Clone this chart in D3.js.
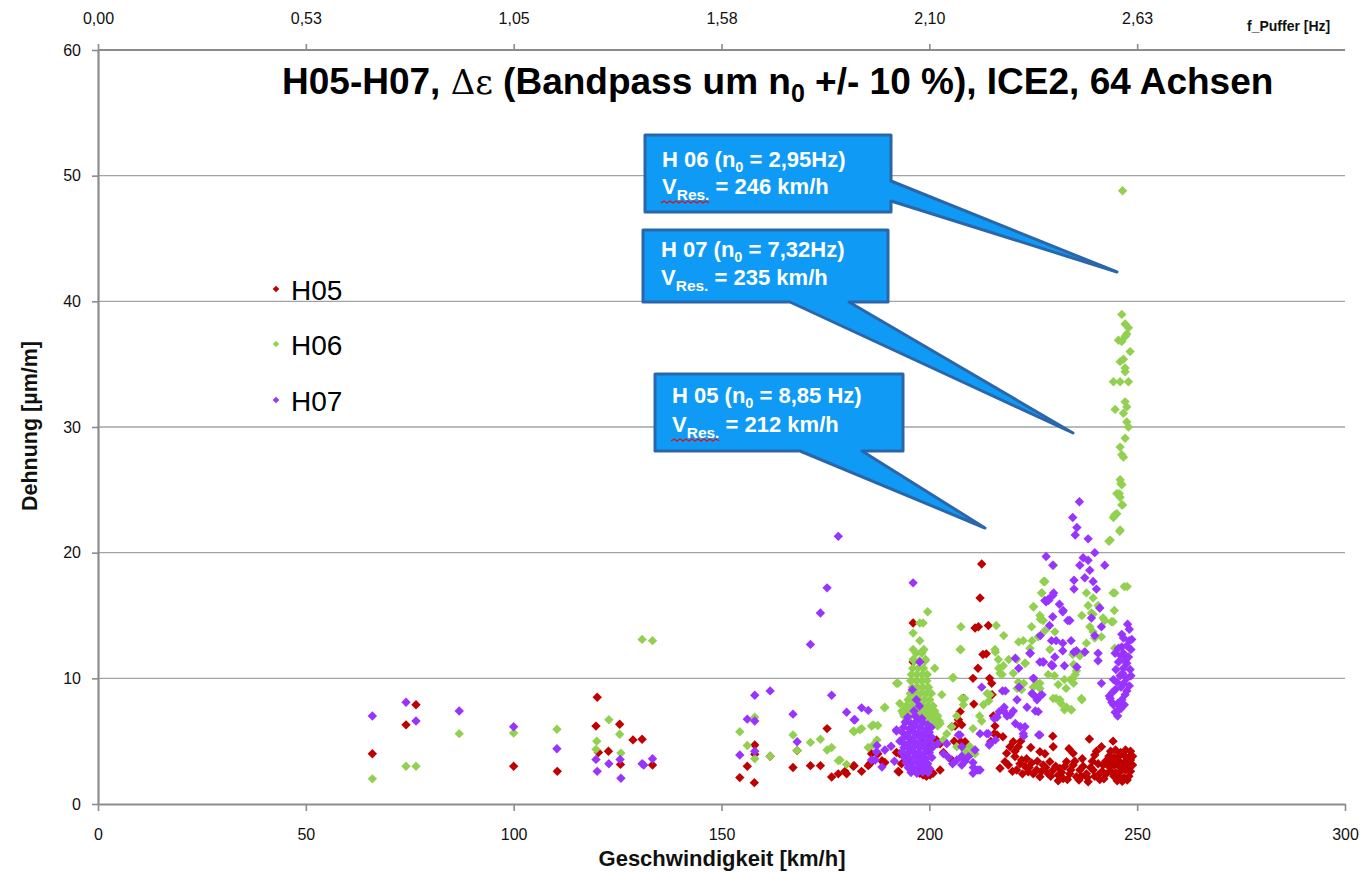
<!DOCTYPE html>
<html><head><meta charset="utf-8">
<script src="https://cdn.jsdelivr.net/npm/d3@7/dist/d3.min.js"></script>
<style>
html,body{margin:0;padding:0;background:#fff;}
svg{display:block;font-family:Arial,"Liberation Sans",sans-serif;}
</style></head>
<body>
<svg id="chart" width="1362" height="872"></svg>
<script>
// ---------- data ----------
const seriesNames = ["H05","H06","H07"];
const seriesColors = ["#C00000","#92D050","#9933FF"];
const xTicks = [0,50,100,150,200,250,300];
const yTicks = [0,10,20,30,40,50,60];
const topTickSpeeds = [0,50,100,150,200,250];
const topTickLabels = ["0,00","0,53","1,05","1,58","2,10","2,63"];

const h05 = [
[66,4.0],[74.1,6.3],[76.5,7.9],[100,3.0],[110.5,2.6],[120.1,8.5],[119.8,6.2],[120.4,4.1],[122.8,4.2],[125.5,6.35],[125.7,3.15],[128.7,5.1],[130.9,5.15],[133.4,3.1],
[154.4,2.1],[156.2,3.0],[157.9,1.7],[158,4.7],[158,3.95],[161.7,3.8],[167.2,2.9],[168.2,4.25],[171.4,3.05],[173.8,3.05],[175.4,6.0],[176.5,2.15],[178.1,2.4],[179.7,2.6],[180.1,2.4],[181.7,3.0],[181.9,3.05],[183.7,2.6],[185.3,3.05],[185.7,3.2],[186.1,4.0],[187.6,4.0],[188.6,3.45],[188.9,3.3],[189.3,3.3],[192.1,4.1],[192.5,2.6],[192.7,2.55],[192.9,4.0],[193.3,3.2],[193.7,4.0],
[196.1,14.4],[196.1,11.3],[197.7,2.45],[198.5,2.3],[199.3,2.2],[200.2,2.3],[200.9,2.45],[202.6,2.7],[198.5,5.0],[199.7,5.3],[200.2,4.7],[201.7,5.1],[202.6,4.8],[203.4,4.1],[205.4,3.5],[205.4,6.15],[206.2,6.2],[207.0,6.7],[207.4,7.35],[207.8,6.3],[208.2,8.4],[208.6,4.95],[207.6,4.95],[206.0,5.0],
[210.5,10.0],[210.7,7.95],[211.7,10.8],[211.0,14.0],[211.8,14.1],[214.2,14.2],[212.2,16.4],[212.6,19.1],[212.9,11.9],[213.7,11.95],[214.5,10.0],[215.0,9.6],[215.1,8.7],[215.4,7.0],[215.8,6.2],[215.6,5.6],[214.8,4.98],[216.3,5.5],
[217.0,2.84],[217.7,5.35],[218.2,3.37],[218.6,4.03],[219.4,4.56],[220.2,4.96],[220.6,3.77],[221.0,2.7],[221.4,4.56],[222.2,3.5],[223.0,3.0],[223.8,2.57],[224.6,3.27],[225.8,2.7],[226.6,2.17],[226.6,4.16],[227.4,3.1],[228.6,2.4],[229.0,3.37],[229.8,2.7],[229.8,4.56],[229.7,5.4],[231.0,2.3],[231.4,2.83],[232.2,2.03],[233.0,3.37],[233.8,2.4],[234.6,3.1],[234.6,4.03],[235.4,2.17],[236.2,2.7],[237.8,2.4],[238.2,1.77],[238.5,5.17],[239.4,2.7],[239.8,3.9],[240.6,2.3],[241.4,4.56],[241.8,3.1],[242.6,2.4],[243.4,2.97],[244.2,5.0],
[219.0,3.1],[220.0,2.6],[221.8,3.2],[222.4,2.4],[224.0,2.9],[225.0,2.4],[226.0,3.4],[227.0,2.6],[228.0,2.9],[229.2,2.2],[230.4,3.0],[231.8,2.5],[232.6,3.0],[233.2,1.95],[234.0,2.7],[235.0,3.4],[236.6,2.2],[237.0,3.0],[238.0,2.1],[238.8,2.9],[239.8,2.2],[240.6,3.2],[241.0,1.95],[241.6,2.6],[242.4,3.4],[242.0,2.0],[236.0,1.9],[231.0,1.85],[223.4,3.6],[220.6,4.2],[227.8,4.0],[233.6,4.4],[236.8,3.6],[239.2,3.4],[240.2,4.2],[224.4,4.5],[222.0,5.0],
[243.6,4.2],[244.8,4.3],[246.0,4.1],[247.2,4.3],[248.4,4.2],
[243.2,3.8],[244.4,3.7],[245.6,3.8],[246.8,3.9],[248.0,3.7],[248.9,3.8],
[243.6,3.4],[244.8,3.4],[246.0,3.3],[247.2,3.4],[248.4,3.5],
[243.2,3.0],[244.4,3.1],[245.6,3.0],[246.8,2.9],[248.0,3.0],[248.9,3.1],
[243.6,2.6],[244.8,2.5],[246.0,2.6],[247.2,2.7],[248.4,2.6],
[244.4,2.2],[245.6,2.2],[246.8,2.1],[248.0,2.2],
[245.2,1.85],[246.4,1.8],[247.6,1.9]
];

const h06 = [
[66,2.0],[74.1,3.0],[76.5,3.0],[86.9,5.6],[100,5.65],[110.4,5.95],[122.9,6.7],[120,5.0],[119.8,4.35],[125.5,5.55],[125.8,4.05],[130.9,13.1],[133.4,13.0],
[154.4,5.75],[156.2,4.65],[158,6.9],[158,3.6],[161.7,3.8],[167.2,5.5],[168.2,4.25],[171.4,4.9],[173.8,5.15],[175.4,4.3],[176.5,4.5],[178.1,3.45],[178.5,3.5],[180.1,3.15],[181.7,5.8],[181.9,5.75],[183.3,5.9],[183.7,6.0],[185.3,4.5],[186.1,6.2],[186.5,6.3],[186.5,4.7],[187.6,6.25],[187.4,5.1],[189.2,7.65],[189.3,7.7],[192.1,9.6],[192.5,9.6],[192.9,8.0],[193.7,7.2],
[196.1,13.6],[196.1,12.3],[199.6,15.3],[197.7,14.4],[198.5,14.4],[197.7,13.0],[198.1,12.1],[198.7,12.3],[199.1,11.5],[196.1,11.5],[201.3,10.8],
[196.8,12.0],[198.2,12.0],
[196.3,11.4],[197.6,11.4],[199.0,11.4],
[196.0,10.8],[197.3,10.8],[198.6,10.8],
[195.7,10.3],[197.0,10.3],[198.3,10.3],[199.5,10.3],
[195.5,9.8],[196.8,9.8],[198.1,9.8],[199.4,9.8],
[195.9,9.3],[197.2,9.3],[198.5,9.3],[199.8,9.3],
[195.4,8.8],[196.7,8.8],[198.0,8.8],[199.3,8.8],[200.5,8.8],
[194.9,8.3],[196.2,8.3],[197.5,8.3],[198.8,8.3],[200.1,8.3],
[194.4,7.8],[195.7,7.8],[197.0,7.8],[198.3,7.8],[199.6,7.8],[200.9,7.8],
[193.4,7.4],[194.8,7.4],[196.1,7.4],[197.4,7.4],[198.7,7.4],[200.0,7.4],[201.3,7.4],
[193.9,7.0],[195.2,7.0],[196.5,7.0],[197.8,7.0],[199.1,7.0],[200.5,7.0],[202.0,7.0],
[194.4,6.6],[199.6,6.6],[201.2,6.6],[202.4,6.6],[200.8,6.2],[202.0,6.2],
[203.0,8.7],[205.6,10.05],[205.8,10.05],[207.4,12.3],[207.6,12.3],[207.6,14.1],[207.8,8.4],[208.5,8.4],[208.2,7.9],[206.6,7.0],[205.4,6.15],[202.6,6.4],[204.2,5.6],[203.4,5.1],[206.6,4.55],[208.6,4.2],[209.7,4.6],[210.1,4.0],[211.0,4.0],[210.5,6.0],[212.1,7.0],[212.6,6.6],[213.0,7.9],[213.9,8.8],[214.3,8.2],[214.6,8.7],
[215.8,12.3],[216.6,11.5],[217.8,11.0],[217.0,10.4],[215.9,12.1],[216.1,14.2],[217.9,13.4],[216.7,10.8],[217.5,10.3],[219.1,11.5],[220.2,10.4],[221.0,11.5],[221.4,9.7],[221.5,12.9],[222.2,9.1],[222.6,13.0],[223.0,11.2],[223.1,11.2],[222.7,9.6],[221.1,9.2],[224.2,12.4],[224.6,14.1],[225.0,9.3],[225.9,9.6],[224.7,13.0],[225.1,15.7],[225.0,15.7],[226.2,13.3],[226.6,15.0],[226.6,9.6],[226.7,14.7],[227.1,16.8],[227.5,17.7],[227.6,17.7],[227.0,16.8],[227.8,13.8],[228.6,10.3],[229.9,19.0],
[227.8,17.7],[227.4,14.6],[230.2,13.7],[229.0,12.3],[230.1,10.2],[226.6,9.2],[229.8,8.4],[230.5,8.4],[231.0,9.5],[231.4,8.3],[231.7,8.0],[232.5,7.5],[233.0,7.7],[232.5,9.9],[232.9,9.2],[233.9,9.9],[234.1,7.5],[234.2,7.5],[234.6,10.0],[234.7,9.6],[235.1,10.3],[235.4,10.6],[234.7,11.1],[235.9,11.9],[234.5,11.9],[236.2,11.8],[236.6,8.4],[236.7,8.3],[237.4,12.1],[237.8,12.8],[239.4,13.7],[239.8,13.2],[238.6,14.1],[236.7,15.0],[239.0,15.2],[239.4,15.1],[238.2,15.8],[240.6,15.8],[241.0,15.6],[239.4,16.4],[237.8,16.8],[241.4,13.3],[241.8,14.8],[242.2,14.6],[243.8,14.5],[244.6,12.4],[244.2,14.5],[244.5,15.4],[244.2,16.8],[244.6,16.8],[246.9,17.3],[247.6,17.3],
[243.2,20.9],[243.5,21.0],[245.8,21.7],[245.9,21.8],[244.3,22.8],[244.6,23.0],[245.1,23.1],[246.5,23.8],[246.3,23.8],[245.9,24.4],[245.7,24.7],[245.1,24.7],[246.1,25.5],[246.3,25.4],[245.9,25.8],[246.7,27.6],[246.3,27.8],[245.9,28.4],[247.1,29.1],[247.9,30.0],[247.5,30.4],[246.7,31.1],[247.5,31.6],[244.7,31.4],[247.1,32.0],[244.3,33.6],[245.9,33.6],[247.9,33.6],[247.1,34.4],[247.1,34.7],[245.9,35.2],[246.7,35.4],[248.3,36.0],[246.3,36.8],[245.5,36.9],[247.1,37.2],[247.5,37.4],[247.9,37.9],[247.1,38.2],[246.3,38.96],[246.5,48.8]
];

const h07 = [
[66,7.0],[74.1,8.1],[76.5,6.6],[86.9,7.4],[100,6.15],[110.4,4.4],[119.8,3.55],[120.1,2.6],[122.9,3.2],[125.6,3.55],[125.8,2.05],[130.9,3.2],[131.3,3.1],[133.4,3.6],
[154.4,3.9],[156.2,6.75],[158,8.65],[158,6.6],[158,4.2],[161.7,9.0],[167.2,7.15],[168.2,4.95],[171.4,12.7],[173.8,15.2],[175.4,17.2],[178.1,21.3],[176.5,8.65],[180.1,7.3],[181.9,6.7],[182.1,6.7],[183.7,7.65],[185.3,7.45],[187.4,4.65],[187.3,4.15],[187.0,3.5],[189.3,4.3],[186.1,3.5],[188.6,2.95],[192.1,5.8],[192.1,5.9],[192.9,5.0],[191.6,3.4],[190.8,4.6],
[196.1,17.6],[197.7,11.3],[196.3,7.4],[197.6,7.8],[196.9,8.3],[195.9,9.1],
[194.8,6.9],[196.6,7.0],[198.2,6.8],
[194.2,6.5],[195.6,6.4],[197.0,6.6],[198.4,6.5],[199.6,6.3],
[193.8,6.1],[195.2,6.0],[196.5,6.2],[197.8,6.1],[199.2,5.9],[200.4,6.1],
[193.5,5.7],[194.8,5.6],[196.1,5.8],[197.4,5.7],[198.7,5.6],[200.0,5.7],
[193.9,5.3],[195.3,5.2],[196.6,5.4],[197.9,5.3],[199.3,5.2],[200.6,5.3],
[193.6,4.9],[194.9,4.8],[196.2,5.0],[197.5,4.9],[198.8,4.8],[200.1,4.9],
[193.9,4.5],[195.2,4.4],[196.5,4.6],[197.8,4.5],[199.2,4.4],[200.5,4.5],
[193.4,4.1],[194.8,4.0],[196.1,4.2],[197.4,4.1],[198.7,4.0],[200.0,4.1],
[194.0,3.7],[195.3,3.6],[196.6,3.8],[197.9,3.7],[199.2,3.6],[200.6,3.7],
[194.4,3.3],[195.7,3.2],[197.0,3.4],[198.3,3.3],[199.6,3.2],
[194.9,2.9],[196.2,2.8],[197.5,3.0],[198.8,2.9],[200.1,2.8],
[195.6,2.5],[197.0,2.45],[198.4,2.55],[199.7,2.5],
[200.9,4.56],[202.0,4.8],[203.4,4.0],[204.2,4.8],[204.6,3.7],[205.6,3.2],[206.6,3.5],[207.8,3.8],[207.8,3.1],[207.8,4.56],[207.0,5.5],[207.4,5.5],[208.6,3.4],[209.4,3.77],[210.5,3.3],[210.5,2.44],[210.6,2.9],[211.7,2.7],[212.2,2.7],[211.0,4.3],[212.2,5.6],[213.8,5.6],[214.2,5.6],[214.4,4.7],[214.6,4.8],[215.9,5.1],[215.6,6.8],[216.3,6.9],[216.8,7.35],[217.9,7.4],[218.0,7.7],[218.7,7.0],[219.5,7.1],[220.2,7.4],[220.7,6.4],[221.9,6.15],[222.7,5.4],[223.0,6.15],[222.6,5.6],[226.3,5.5],[226.6,5.5],
[212.6,9.3],[217.6,9.0],[218.3,9.0],[220.7,11.6],[221.5,10.8],[221.1,8.3],[221.6,9.3],[223.5,7.7],[224.3,12.0],[224.2,12.0],[225.1,10.0],[225.0,10.0],[224.7,8.8],[225.0,8.7],[225.9,8.3],[226.6,8.6],[227.1,8.7],[225.5,7.4],[226.2,7.35],[227.5,11.3],[226.6,11.3],[229.5,11.0],[229.4,11.1],[230.2,11.7],[226.7,13.4],[229.4,13.0],[228.7,16.2],[227.8,16.2],[228.6,16.3],[229.9,16.8],[232.2,15.4],[233.8,14.6],
[236.1,24.05],[234.5,22.8],[235.5,22.0],[235.1,21.4],[238.2,21.1],[239.8,20.0],[237.0,19.6],[238.2,19.4],[228.1,19.7],[229.7,19.0],[236.2,19.0],[238.6,18.6],[242.2,19.0],[234.8,17.8],[237.4,18.0],[239.4,17.7],[234.8,17.1],[240.2,17.1],[229.7,16.6],[228.1,16.1],[231.3,15.9],[232.1,15.3],[229.7,14.9],[233.3,14.6],[228.9,14.2],[241.0,15.6],[239.0,14.8],[241.4,14.1],[239.8,13.4],[230.5,13.0],[232.1,12.8],[234.1,13.0],[232.1,12.2],[234.8,12.1],[235.4,12.2],[237.4,12.1],[240.6,12.0],[227.3,11.3],[229.7,11.0],[232.5,11.0],[235.5,10.9],[240.6,11.4],[241.4,9.6],
[248.1,13.9],[246.3,13.5],[248.1,13.0],[246.3,12.5],[244.7,12.0],[246.7,12.0],[247.9,11.7],[245.5,11.3],[247.5,11.2],[246.7,10.8],[248.3,10.7],[245.9,10.2],[247.5,10.0],[244.3,9.9],[246.7,9.6],[244.7,9.1],[247.5,9.0],[243.5,8.4],[246.3,8.3],[244.3,7.9],[245.5,7.5],[245.3,7.0],
[246.7,13.2],[247.5,12.6],[245.5,12.4],[248.5,12.3],[246.1,11.8],[247.1,11.4],[244.9,10.7],[246.5,10.4],[248.5,10.2],[245.1,9.7],[246.1,9.3],[248.1,9.4],[244.1,8.9],[247.1,8.7],[243.9,8.1],[245.3,8.0],[246.9,7.9],[244.7,7.3],[246.1,7.6],[243.3,8.6],[247.7,14.3],[248.7,13.1]
];

const series = [h05, h06, h07];

// ---------- chart ----------
const svg = d3.select("#chart");
const x = d3.scaleLinear().domain([0,300]).range([98,1345]);
const y = d3.scaleLinear().domain([0,60]).range([804,50]);
const gridColor = "#a3a3a3", axisColor = "#8c8c8c";

svg.append("g").selectAll("line").data(yTicks.filter(v=>v>0 && v<60)).join("line")
  .attr("x1",x(0)).attr("x2",x(300)).attr("y1",d=>y(d)).attr("y2",d=>y(d))
  .attr("stroke",gridColor).attr("stroke-width",1.3);

function styleAxis(g){
  g.select(".domain").attr("stroke",axisColor).attr("stroke-width",2.2);
  g.selectAll(".tick line").attr("stroke",axisColor).attr("stroke-width",1.6);
  g.selectAll(".tick text").attr("fill","#111").attr("font-size",16).attr("font-family","Arial, 'Liberation Sans', sans-serif");
}
svg.append("g").attr("transform",`translate(0,${y(0)})`)
  .call(d3.axisBottom(x).tickValues(xTicks).tickSize(7).tickPadding(18).tickSizeOuter(0).tickFormat(d3.format("d")))
  .call(styleAxis);
svg.append("g").attr("transform",`translate(${x(0)},0)`)
  .call(d3.axisLeft(y).tickValues(yTicks).tickSize(6).tickPadding(11).tickSizeOuter(0).tickFormat(d3.format("d")))
  .call(styleAxis);
svg.append("g").attr("transform",`translate(0,${y(60)})`)
  .call(d3.axisTop(x).tickValues(topTickSpeeds).tickSize(6).tickPadding(20).tickSizeOuter(0)
        .tickFormat((d,i)=>topTickLabels[i]))
  .call(styleAxis)
  .call(g=>g.select(".domain").attr("d",`M${x(0)},0H${x(300)}`));

svg.append("text").attr("x",1247).attr("y",31).attr("font-size",14).attr("font-weight","bold")
  .attr("fill","#111").text("f_Puffer [Hz]");

svg.append("text").attr("x",722).attr("y",866).attr("text-anchor","middle")
  .attr("font-size",22).attr("font-weight","bold").attr("fill","#111").text("Geschwindigkeit [km/h]");
svg.append("text").attr("transform","translate(37,426) rotate(-90)").attr("text-anchor","middle")
  .attr("font-size",21.5).attr("font-weight","bold").attr("fill","#111").text("Dehnung [µm/m]");

const diamond = r => `M0,${-r}L${r},0L0,${r}L${-r},0Z`;
series.forEach((s,i)=>{
  svg.append("g").selectAll("path").data(s).join("path")
    .attr("d",diamond(4.7))
    .attr("transform",d=>`translate(${x(d[0])},${y(d[1])})`)
    .attr("fill",seriesColors[i]);
});

const legendY = [300,355,411];
seriesNames.forEach((n,i)=>{
  svg.append("path").attr("d",diamond(3.3)).attr("transform",`translate(276,${legendY[i]-11})`).attr("fill",seriesColors[i]);
  svg.append("text").attr("x",291).attr("y",legendY[i]).attr("font-size",28).attr("fill","#000").text(n);
});

const title = svg.append("text").attr("x",282).attr("y",94).attr("font-size",37).attr("font-weight","bold").attr("fill","#000");
title.append("tspan").text("H05-H07, ");
title.append("tspan").attr("font-weight","normal").attr("font-family","'DejaVu Serif', serif").attr("font-size",34).text("Δε");
title.append("tspan").text(" (Bandpass um n");
title.append("tspan").attr("font-size",25).attr("dy",8).text("0");
title.append("tspan").attr("dy",-8).text(" +/- 10 %), ICE2, 64 Achsen");

const calloutFill = "#0f9bf5", calloutStroke = "#2b66ab";
const callouts = [
  {path:"M645,135 L891,135 L891,181 L1117,272 L891,201 L891,212 L645,212 Z",
   x:662, y1:167, y2:194, head:"H 06 (n", tail:" = 2,95Hz)", v:" = 246 km/h", wavy:true},
  {path:"M643,230 L888,230 L888,302 L849,302 L1073,433 L790,302 L643,302 Z",
   x:661, y1:257, y2:285, head:"H 07 (n", tail:" = 7,32Hz)", v:" = 235 km/h", wavy:false},
  {path:"M655,374 L903,374 L903,451 L862,451 L985,528 L800,451 L655,451 Z",
   x:672, y1:403, y2:432, head:"H 05 (n", tail:" = 8,85 Hz)", v:" = 212 km/h", wavy:true}
];
callouts.forEach(c=>{
  svg.append("path").attr("d",c.path).attr("fill",calloutFill).attr("stroke",calloutStroke)
    .attr("stroke-width",3).attr("stroke-linejoin","round");
  const t1 = svg.append("text").attr("x",c.x).attr("y",c.y1).attr("font-size",22).attr("font-weight","bold").attr("fill","#fff");
  t1.append("tspan").text(c.head);
  t1.append("tspan").attr("font-size",14.5).attr("dy",5).text("0");
  t1.append("tspan").attr("dy",-5).text(c.tail);
  const t2 = svg.append("text").attr("x",c.x).attr("y",c.y2).attr("font-size",22).attr("font-weight","bold").attr("fill","#fff");
  t2.append("tspan").text("V");
  t2.append("tspan").attr("font-size",15.5).attr("dy",6).text("Res.");
  t2.append("tspan").attr("dy",-6).text(c.v);
  if(c.wavy){
    let p = `M${c.x-1},${c.y2+9}`;
    for(let k=0;k<16;k++){ p += ` L${c.x+2+k*3},${c.y2+9+(k%2===0?-2:0)}`; }
    svg.append("path").attr("d",p).attr("fill","none").attr("stroke","#e01010").attr("stroke-width",1.2);
  }
});
</script>
</body></html>
